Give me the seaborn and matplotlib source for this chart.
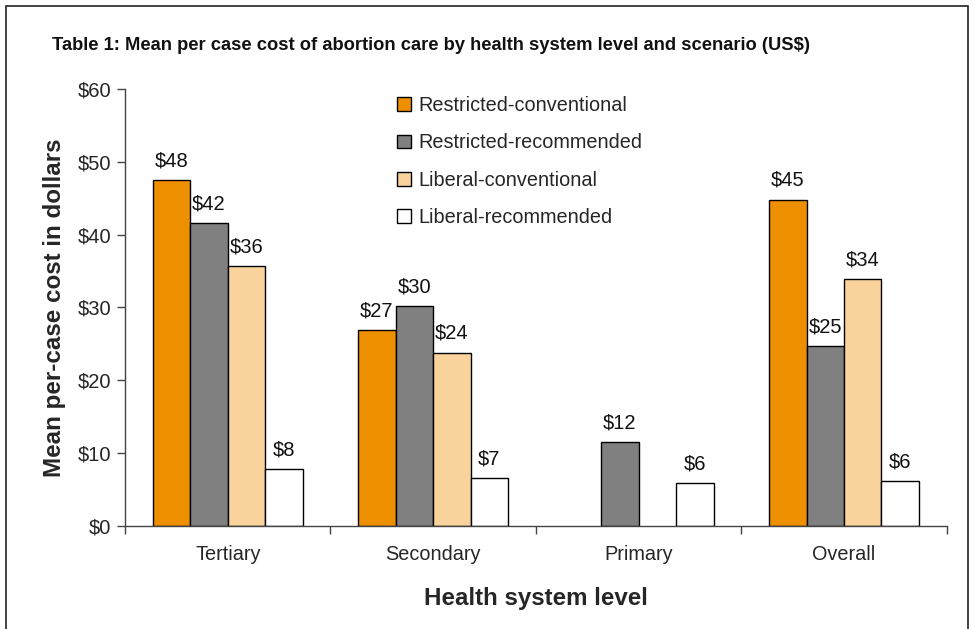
import numpy as np
import pandas as pd
import matplotlib
matplotlib.use("Agg")
import matplotlib.pyplot as plt
import seaborn as sns
from matplotlib.patches import Rectangle, Patch

categories = ["Tertiary", "Secondary", "Primary", "Overall"]
scenarios = ["Restricted-conventional", "Restricted-recommended",
             "Liberal-conventional", "Liberal-recommended"]
restricted_conventional = [47.5, 26.9, np.nan, 44.8]
restricted_recommended = [41.6, 30.2, 11.5, 24.7]
liberal_conventional = [35.7, 23.8, np.nan, 33.9]
liberal_recommended = [7.8, 6.6, 5.9, 6.2]
colors = ["#EE8F00", "#808080", "#F9D39B", "#FFFFFF"]
title = "Table 1: Mean per case cost of abortion care by health system level and scenario (US$)"

series = [restricted_conventional, restricted_recommended,
          liberal_conventional, liberal_recommended]
rows = []
for s, vals in zip(scenarios, series):
    for c, v in zip(categories, vals):
        rows.append({"level": c, "scenario": s, "cost": v})
df = pd.DataFrame(rows).dropna()

sns.set_theme(style="white")
plt.rcParams["font.family"] = ["Liberation Sans", "DejaVu Sans"]

fig = plt.figure(figsize=(9.77, 6.29), dpi=100)
ax = fig.add_axes([0.128, 0.1638, 0.841, 0.6947])

sns.barplot(data=df, x="level", y="cost", hue="scenario", order=categories,
            hue_order=scenarios, palette=colors, saturation=1, edgecolor="black",
            linewidth=1.0, width=0.73, ax=ax, legend=False, errorbar=None)

for cont in ax.containers:
    labels = [f"${v:.0f}" if v > 0 else "" for v in cont.datavalues]
    ax.bar_label(cont, labels=labels, padding=7, fontsize=14.5, color="#111111")

ax.set_ylim(0, 60)
ax.set_xlim(-0.5, 3.5)
ax.set_yticks(range(0, 61, 10))
ax.set_yticklabels([f"${t}" for t in range(0, 61, 10)], fontsize=14.5)
ax.set_xticks(range(4))
ax.set_xticklabels(categories, fontsize=14.3)
ax.set_xticks(np.arange(-0.5, 3.6, 1.0), minor=True)
ax.tick_params(axis="x", which="major", length=0, pad=14)
ax.tick_params(axis="x", which="minor", length=6, width=1, color="#444444", direction="out", bottom=True)
ax.tick_params(axis="y", length=6, width=1, color="#444444", direction="out", left=True, pad=4)
for sp in ["top", "right"]:
    ax.spines[sp].set_visible(False)
for sp in ["left", "bottom"]:
    ax.spines[sp].set_color("#444444")
    ax.spines[sp].set_linewidth(1.0)

ax.set_xlabel("Health system level", fontsize=17.4, fontweight="bold", labelpad=16)
ax.set_ylabel("Mean per-case cost in dollars", fontsize=17.4, fontweight="bold", labelpad=8)

handles = [Patch(facecolor=c, edgecolor="black", linewidth=1.0) for c in colors]
leg = ax.legend(handles, scenarios, loc="upper left", bbox_to_anchor=(0.309, 1.025),
                frameon=False, fontsize=14.3, handlelength=0.7, handleheight=0.7,
                handletextpad=0.4, labelspacing=0.93)

fig.text(52 / 977, 1 - 45 / 629, title, fontsize=13.2, fontweight="bold",
         va="center", ha="left", color="#111111")

fig.patches.append(Rectangle((6 / 977, -0.05), (968 - 6) / 977, 1 - 6 / 629 + 0.05,
                             transform=fig.transFigure, fill=False,
                             edgecolor="#222222", linewidth=1.2))

fig.savefig("out.png", dpi=100)
